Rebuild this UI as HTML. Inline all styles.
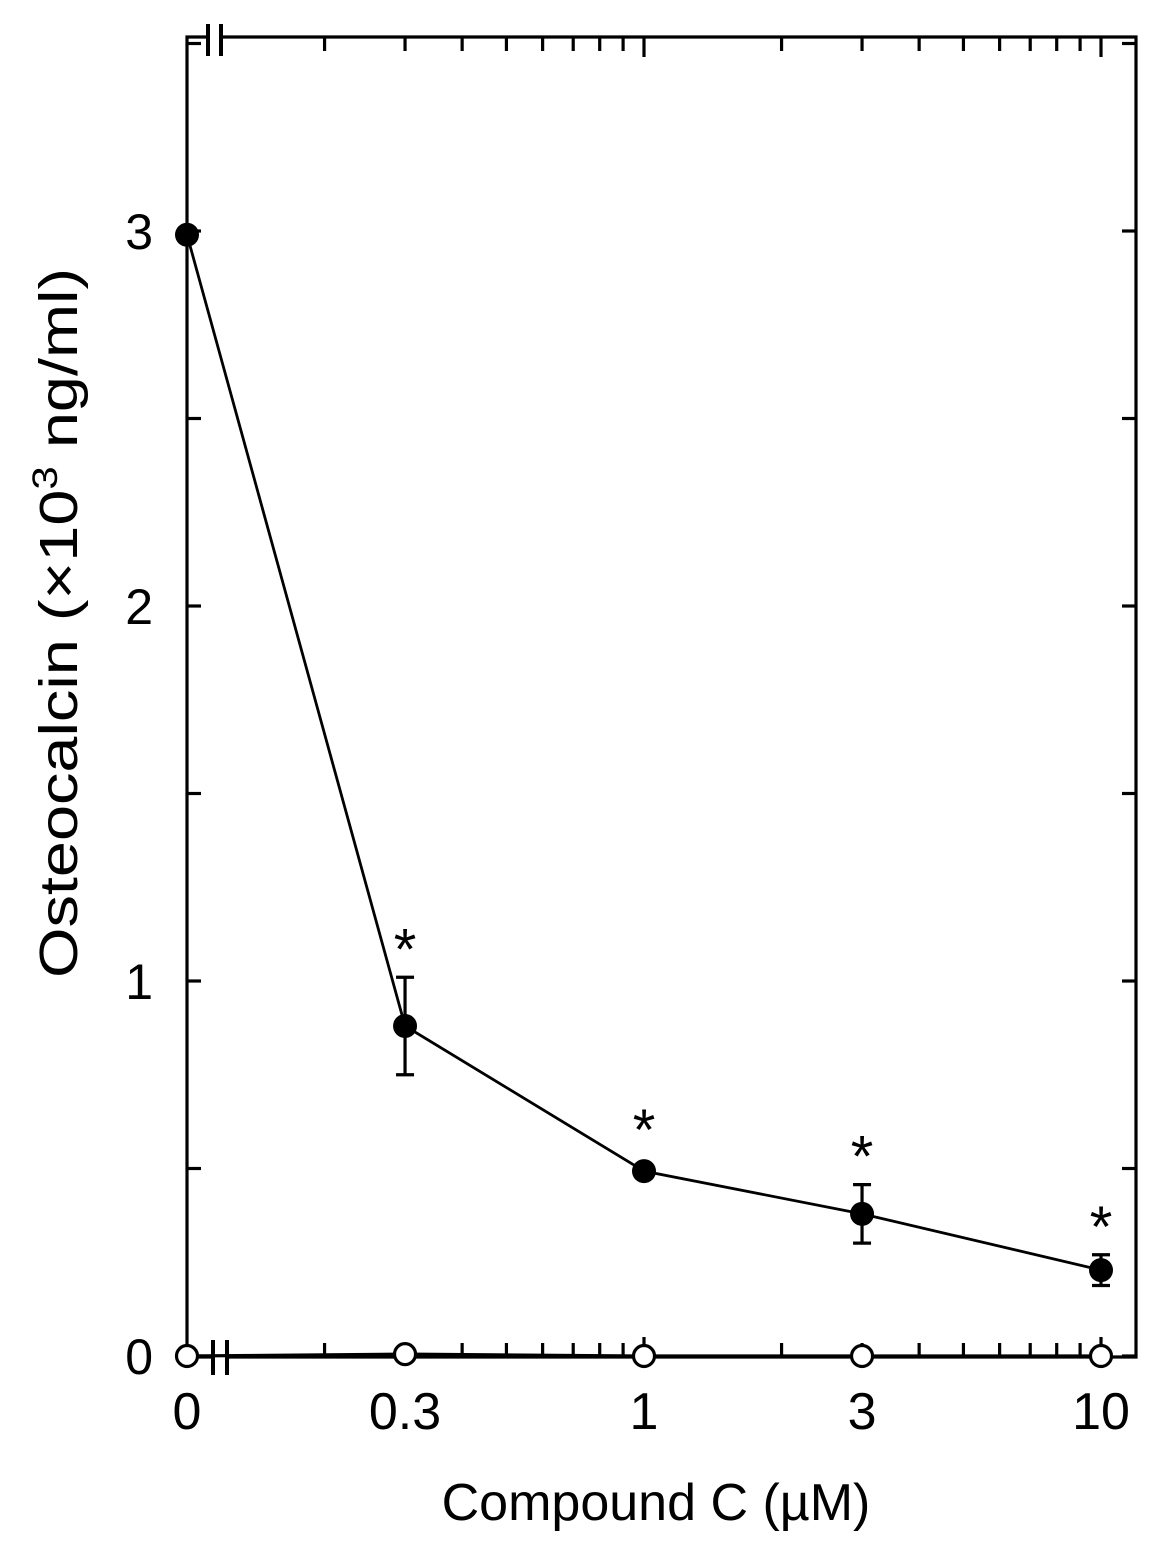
<!DOCTYPE html>
<html><head><meta charset="utf-8"><style>
html,body{margin:0;padding:0;background:#fff;}
svg{display:block;font-family:"Liberation Sans",Arial,sans-serif;}
</style></head><body>
<svg id="chart" width="1162" height="1556" viewBox="0 0 1162 1556"></svg>
<script>
const categories=[0,0.3,1,3,10];
const filledValues=[2.99,0.88,0.493,0.379,0.229];
const filledErr=[0,0.13,0,0.078,0.041];
const openValues=[0,0.005,0,0,0];
const yTicks=[0,1,2,3];
const xTickLabels=["0","0.3","1","3","10"];
const minorX=[0.2,0.3,0.4,0.5,0.6,0.7,0.8,0.9,1,2,3,4,5,6,7,8,9,10];
const L=187,R=1136,T=37,B=1357;
function X(v){return v===0?187:644+457*Math.log10(v);}
function Y(v){return 1356-375*v;}
const svg=document.getElementById('chart');
const NS='http://www.w3.org/2000/svg';
function mk(t,a,p){const e=document.createElementNS(NS,t);for(const k in a)e.setAttribute(k,a[k]);(p||svg).appendChild(e);return e;}
const st={stroke:'#000','stroke-width':3.2,fill:'none'};
let e;
e=mk('path',Object.assign({d:`M${L},${B} L${L},${T} L${R},${T} L${R},${B} L${L},${B}`},st));

mk('rect',{x:209,y:30,width:12,height:14,fill:'#fff'});
mk('rect',{x:213,y:1350,width:14,height:14,fill:'#fff'});
for(const bx of [208,221]){e=mk('line',{x1:bx,y1:24,x2:bx,y2:56,stroke:'#000','stroke-width':4});}
for(const bx of [213,227]){e=mk('line',{x1:bx,y1:1340,x2:bx,y2:1375,stroke:'#000','stroke-width':4});}
for(let v=0;v<=3.5;v+=0.5){const y=Y(v);
 e=mk('line',{x1:L,y1:y,x2:L+14,y2:y,stroke:'#000','stroke-width':3.2});
 e=mk('line',{x1:R,y1:y,x2:R-14,y2:y,stroke:'#000','stroke-width':3.2});}
for(const v of yTicks){e=mk('text',{x:153,y:Y(v)+18,'font-size':50,'text-anchor':'end'});e.textContent=v;}
for(const v of minorX){const x=X(v);const len=(v===1||v===10)?20:14;
 e=mk('line',{x1:x,y1:B,x2:x,y2:B-len,stroke:'#000','stroke-width':3.2});
 e=mk('line',{x1:x,y1:T,x2:x,y2:T+len,stroke:'#000','stroke-width':3.2});}
categories.forEach((c,i)=>{e=mk('text',{x:X(c),y:1429,'font-size':52,'text-anchor':'middle'});e.textContent=xTickLabels[i];});
e=mk('text',{x:656,y:1520,'font-size':52,'text-anchor':'middle'});e.textContent='Compound C (µM)';
e=mk('text',{transform:'translate(77,623) rotate(-90)','font-size':54,'text-anchor':'middle','textLength':710,'lengthAdjust':'spacingAndGlyphs'});
e.innerHTML='Osteocalcin (×10<tspan font-size="35" dy="-20">3</tspan><tspan dy="20"> ng/ml)</tspan>';

e=mk('polyline',Object.assign({points:categories.map((c,i)=>X(c)+','+Y(openValues[i])).join(' ')},st));
e=mk('polyline',{points:categories.map((c,i)=>X(c)+','+Y(filledValues[i])).join(' '),stroke:'#000','stroke-width':2.8,fill:'none'});
categories.forEach((c,i)=>{if(!filledErr[i])return;const x=X(c),y1=Y(filledValues[i]+filledErr[i]),y2=Y(filledValues[i]-filledErr[i]);
 e=mk('path',{d:`M${x},${y1}L${x},${y2}M${x-9},${y1}L${x+9},${y1}M${x-9},${y2}L${x+9},${y2}`,stroke:'#000','stroke-width':3.2,fill:'none'});});
categories.forEach((c,i)=>{e=mk('circle',{cx:X(c),cy:Y(openValues[i]),r:10.5,fill:'#fff',stroke:'#000','stroke-width':3.2});});
categories.forEach((c,i)=>{e=mk('circle',{cx:X(c),cy:Y(filledValues[i]),r:12,fill:'#000'});});
categories.forEach((c,i)=>{if(c===0)return;const top=Y(filledValues[i]+filledErr[i])-(filledErr[i]?40:53);
 e=mk('text',{x:X(c),y:top+32,'font-size':58,'text-anchor':'middle'});e.textContent='*';});
</script>
</body></html>
